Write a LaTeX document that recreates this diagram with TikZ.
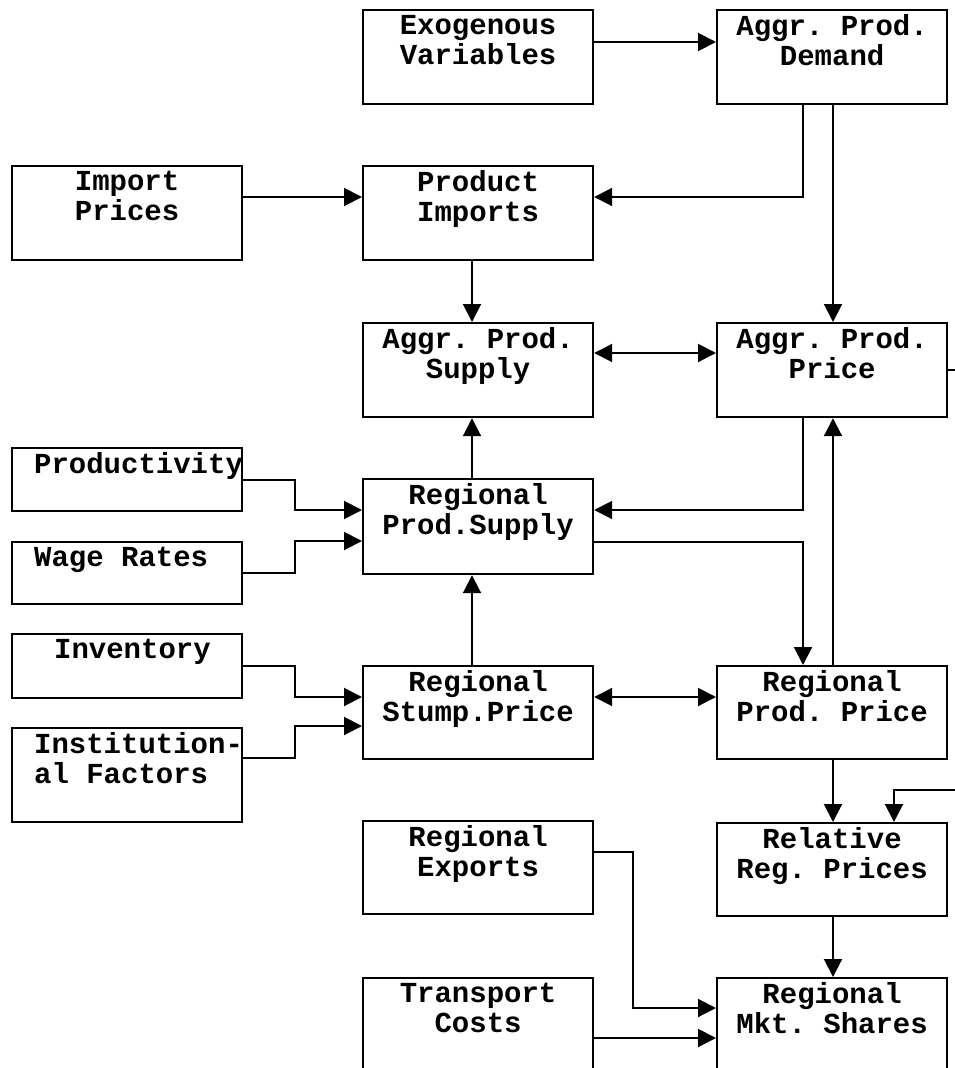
\documentclass[tikz,border=0pt]{standalone}
\usepackage{fontspec}
\setmonofont{Liberation Mono}
\usepackage{tikz}
\usetikzlibrary{arrows.meta,calc,positioning}
\tikzset{
  blk/.style={draw,line width=2.2pt,anchor=north west,inner sep=4pt,
    font=\ttfamily\bfseries\fontsize{29}{30}\selectfont},
  arr/.style={-{Triangle[length=18pt,width=18pt]},line width=2pt},
  dbl/.style={{Triangle[length=18pt,width=18pt]}-{Triangle[length=18pt,width=18pt]},line width=2pt}
}
% box text: height, lines (centred or with a left indent)
\newcommand{\ctxt}[2]{\parbox[t][#1][t]{222pt}{\centering\rule{0pt}{20pt}#2}}
\newcommand{\ltxt}[3]{\parbox[t][#1][t]{222pt}{\raggedright\leftskip=#2\rule{0pt}{20pt}#3}}

\begin{document}
\begin{tikzpicture}[x=1pt,y=-1pt]
  \useasboundingbox (0,0) rectangle (955,1068);
  % top rows
  \node[blk] (exog) at (362,9) {\ctxt{86pt}{Exogenous\\Variables}};
  \node[blk] (demand) at (716,9) {\ctxt{86pt}{Aggr. Prod.\\Demand}};
  \node[blk] (impprice) at (11,165) {\ctxt{86pt}{Import\\Prices}};
  \node[blk] (prodimp) at (362,165) {\ctxt{86pt}{Product\\Imports}};
  \node[blk] (aggsup) at (362,322) {\ctxt{86pt}{Aggr. Prod.\\Supply}};
  \node[blk] (aggprice) at (716,322) {\ctxt{86pt}{Aggr. Prod.\\Price}};
  % regional supply
  \node[blk] (productivity) at (11,447) {\ltxt{55pt}{18pt}{Productivity}};
  \node[blk] (regsup) at (362,478) {\ctxt{87pt}{Regional\\Prod.Supply}};
  \node[blk] (wage) at (11,541) {\ltxt{54pt}{18pt}{Wage Rates}};
  \node[blk] (inventory) at (11,633) {\ltxt{56pt}{38pt}{Inventory}};
  \node[blk] (stump) at (362,665) {\ctxt{85pt}{Regional\\Stump.Price}};
  \node[blk] (regprice) at (716,665) {\ctxt{85pt}{Regional\\Prod. Price}};
  \node[blk] (instit) at (11,727) {\ltxt{86pt}{18pt}{Institution-\\al Factors}};
  % market shares
  \node[blk] (exports) at (362,820) {\ctxt{85pt}{Regional\\Exports}};
  \node[blk] (relprice) at (716,822) {\ctxt{85pt}{Relative\\Reg. Prices}};
  \node[blk] (transport) at (362,977) {\ctxt{86pt}{Transport\\Costs}};
  \node[blk] (mktshare) at (716,977) {\ctxt{86pt}{Regional\\Mkt. Shares}};
  \coordinate (feedp) at ($(aggprice.east)+(14,0)$);
  \coordinate (feedr) at (957,790);

  \draw[arr] ($(exog.north east)+(0,33)$) -- ($(demand.north west)+(0,33)$);
  \draw[arr] ($(demand.south west)+(87,0)$) |- ($(prodimp.north east)+(0,32)$);
  \draw[arr] ($(demand.south west)+(117,0)$) -- ($(aggprice.north west)+(117,0)$);
  \draw[arr] ($(impprice.north east)+(0,32)$) -- ($(prodimp.north west)+(0,32)$);
  \draw[arr] ($(prodimp.south west)+(110,0)$) -- ($(aggsup.north west)+(110,0)$);
  \draw[dbl] ($(aggsup.north east)+(0,31)$) -- ($(aggprice.north west)+(0,31)$);
  \draw[line width=2pt] (aggprice.east) -- (feedp);
  \draw[arr] ($(regsup.north west)+(110,0)$) -- ($(aggsup.south west)+(110,0)$);
  \draw[arr] (productivity.east) -- ++(52,0) |- ($(regsup.north west)+(0,32)$);
  \draw[arr] (wage.east) -- ++(52,0) |- ($(regsup.north west)+(0,63)$);
  \draw[arr] ($(aggprice.south west)+(87,0)$) |- ($(regsup.north east)+(0,32)$);
  \draw[arr] ($(regsup.north east)+(0,64)$) -| ($(regprice.north west)+(87,0)$);
  \draw[arr] ($(regprice.north west)+(117,0)$) -- ($(aggprice.south west)+(117,0)$);
  \draw[arr] ($(stump.north west)+(110,0)$) -- ($(regsup.south west)+(110,0)$);
  \draw[arr] (inventory.east) -- ++(52,0) |- ($(stump.north west)+(0,32)$);
  \draw[arr] ($(instit.north east)+(0,31)$) -- ++(52,0) |- ($(stump.north west)+(0,61)$);
  \draw[dbl] ($(stump.north east)+(0,32)$) -- ($(regprice.north west)+(0,32)$);
  \draw[arr] ($(regprice.south west)+(117,0)$) -- ($(relprice.north west)+(117,0)$);
  \draw[arr] (feedr) -| ($(relprice.north west)+(178,0)$);
  \draw[arr] ($(exports.north east)+(0,32)$) -- ++(39,0) |- ($(mktshare.north west)+(0,31)$);
  \draw[arr] ($(transport.north east)+(0,61)$) -- ($(mktshare.north west)+(0,61)$);
  \draw[arr] ($(relprice.south west)+(117,0)$) -- ($(mktshare.north west)+(117,0)$);
\end{tikzpicture}
\end{document}
